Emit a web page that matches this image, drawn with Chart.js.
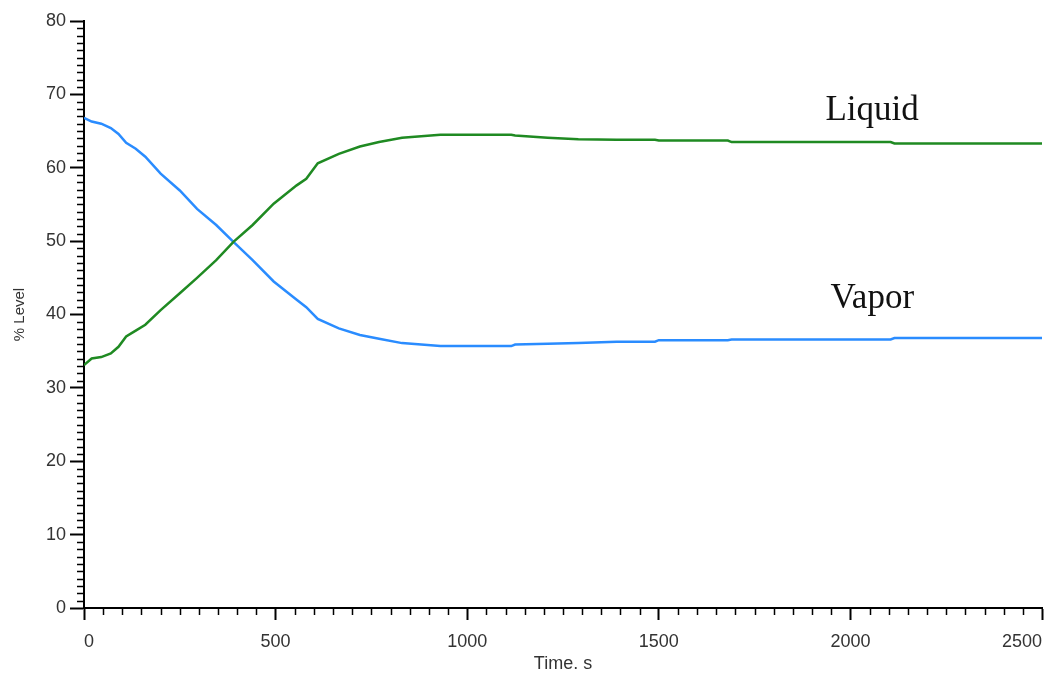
<!DOCTYPE html>
<html>
<head>
<meta charset="utf-8">
<script src="https://cdn.jsdelivr.net/npm/chart.js@4.4.0/dist/chart.umd.min.js"></script>
<style>
  html, body { margin: 0; padding: 0; background: #ffffff; }
  #wrap { width: 1053px; height: 675px; position: relative; }
</style>
</head>
<body>
<div id="wrap"><canvas id="c" width="1053" height="675"></canvas></div>
<script>
// ---- data ----
const timeS = [0, 20, 45, 70, 90, 110, 135, 160, 200, 250, 295, 345, 390, 440, 495, 555, 580, 610, 665, 720, 770, 830, 880, 930, 1000, 1115, 1125, 1210, 1290, 1390, 1490, 1500, 1680, 1690, 2105, 2115, 2500];
const liquidLevel = [33.1, 34.0, 34.2, 34.7, 35.6, 37.0, 37.8, 38.6, 40.6, 42.9, 45.0, 47.4, 49.9, 52.2, 55.1, 57.6, 58.5, 60.6, 61.9, 62.9, 63.5, 64.1, 64.3, 64.5, 64.5, 64.5, 64.4, 64.1, 63.9, 63.8, 63.8, 63.7, 63.7, 63.5, 63.5, 63.3, 63.3];
const vaporLevel = [66.8, 66.3, 66.0, 65.4, 64.6, 63.4, 62.6, 61.5, 59.2, 56.9, 54.4, 52.2, 49.9, 47.4, 44.5, 42.0, 41.0, 39.4, 38.1, 37.2, 36.7, 36.1, 35.9, 35.7, 35.7, 35.7, 35.9, 36.0, 36.1, 36.3, 36.3, 36.5, 36.5, 36.6, 36.6, 36.8, 36.8];
const seriesNames = ["Liquid", "Vapor"];
const xTitle = "Time. s";
const yTitle = "% Level";

const toXY = (ys) => timeS.map((t, i) => ({ x: t, y: ys[i] }));

// minor ticks + in-chart labels drawn through the chart's scales
const extrasPlugin = {
  id: 'extras',
  afterDraw(chart) {
    const { ctx, scales } = chart;
    const xs = scales.x, ys = scales.y;
    ctx.save();
    ctx.strokeStyle = '#000';
    ctx.lineWidth = 1.5;
    ctx.beginPath();
    for (let v = 50; v < 2500; v += 50) {
      if (v % 500 === 0) continue;
      const px = Math.round(xs.getPixelForValue(v)) + 0.5;
      ctx.moveTo(px, ys.bottom);
      ctx.lineTo(px, ys.bottom + 7);
    }
    for (let v = 1; v < 80; v += 1) {
      if (v % 10 === 0) continue;
      const py = Math.round(ys.getPixelForValue(v)) + 0.5;
      ctx.moveTo(xs.left - 7, py);
      ctx.lineTo(xs.left, py);
    }
    ctx.stroke();

    // series labels
    ctx.fillStyle = '#111';
    ctx.font = '35px "Liberation Serif", "Times New Roman", serif';
    ctx.textAlign = 'left';
    ctx.textBaseline = 'alphabetic';
    const labelPos = [[1935, 66.5], [1948, 40.9]];
    seriesNames.forEach((name, i) => {
      ctx.fillText(name, xs.getPixelForValue(labelPos[i][0]), ys.getPixelForValue(labelPos[i][1]));
    });
    ctx.restore();
  }
};

new Chart(document.getElementById('c'), {
  type: 'line',
  data: {
    datasets: [
      { label: seriesNames[0], data: toXY(liquidLevel), borderColor: '#1f8a22', borderWidth: 2.5, pointRadius: 0, tension: 0, fill: false },
      { label: seriesNames[1], data: toXY(vaporLevel), borderColor: '#2a8cff', borderWidth: 2.5, pointRadius: 0, tension: 0, fill: false }
    ]
  },
  options: {
    responsive: false,
    animation: false,
    events: [],
    layout: { autoPadding: false, padding: { top: 21, right: 8, left: 0, bottom: 0 } },
    plugins: { legend: { display: false }, tooltip: { enabled: false } },
    scales: {
      x: {
        type: 'linear', min: 0, max: 2500,
        afterFit(s) { s.height = 67; },
        ticks: { stepSize: 500, color: '#333', padding: 11, align: 'inner', maxRotation: 0,
                 callback: (v) => String(v),
                 font: { family: '"Liberation Sans", Arial, sans-serif', size: 18 } },
        grid: { drawOnChartArea: false, drawTicks: true, tickLength: 12, tickColor: '#000', tickWidth: 2 },
        border: { display: true, color: '#000', width: 2 },
        title: { display: true, text: xTitle, color: '#333', padding: { top: 0, bottom: 0 },
                 font: { family: '"Liberation Sans", Arial, sans-serif', size: 18 } }
      },
      y: {
        min: 0, max: 80,
        afterFit(s) { s.width = 84; },
        ticks: { stepSize: 10, color: '#333', padding: 4,
                 callback: (v) => String(v),
                 font: { family: '"Liberation Sans", Arial, sans-serif', size: 18 } },
        grid: { drawOnChartArea: false, drawTicks: true, tickLength: 14, tickColor: '#000', tickWidth: 2 },
        border: { display: true, color: '#000', width: 2 },
        title: { display: true, text: yTitle, color: '#333', padding: { top: 11, bottom: 0 },
                 font: { family: '"Liberation Sans", Arial, sans-serif', size: 15 } }
      }
    }
  },
  plugins: [extrasPlugin]
});
</script>
</body>
</html>
